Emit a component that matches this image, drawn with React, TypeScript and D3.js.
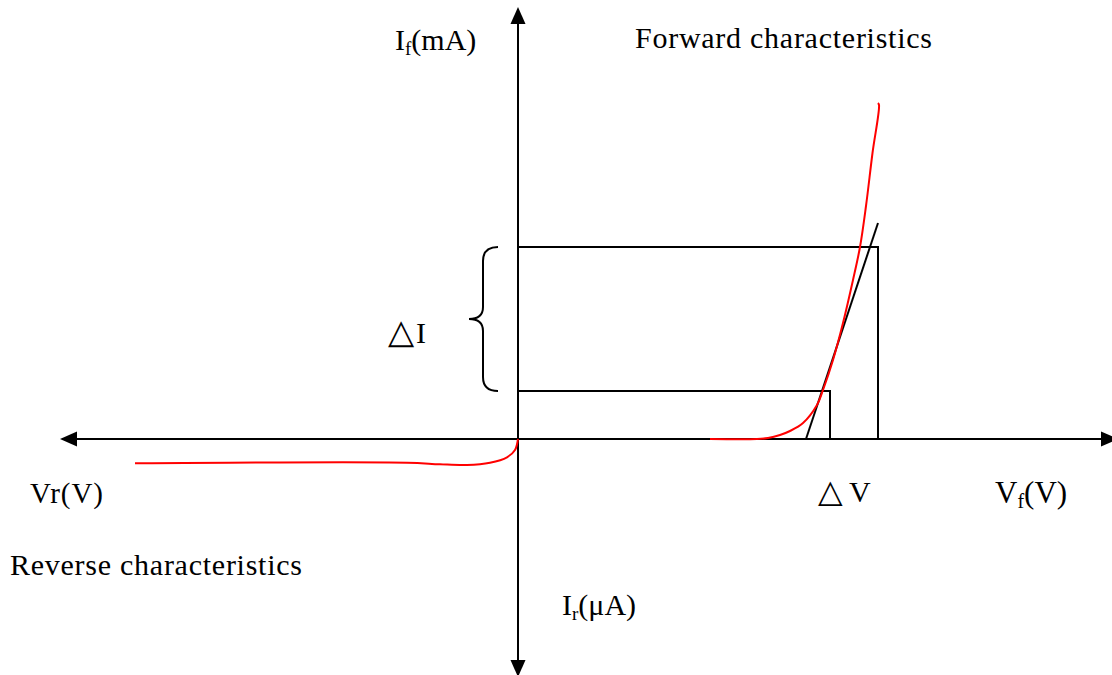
import React from "react";
import * as d3 from "d3";

// Axis extents (arrow tips) in data units
const axisV: [number, number] = [-4.58, 6.0];
const axisI: [number, number] = [-23.8, 43.2];

// Forward characteristic (V, mA)
const forwardV = [1.92, 2.39, 2.5, 2.62, 2.72, 2.85, 2.99, 3.05, 3.15, 3.25, 3.35, 3.42, 3.48, 3.545, 3.61, 3.6];
const forwardI = [0, 0, 0.1, 0.4, 0.8, 1.6, 3.4, 4.9, 7.9, 11.6, 15.9, 19.2, 23.3, 28.6, 33.4, 33.6];

// Reverse characteristic (V, µA scaled)
const reverseV = [-3.83, -1.11, -0.78, -0.51, -0.28, -0.11, -0.03, 0];
const reverseI = [-2.43, -2.37, -2.53, -2.6, -2.37, -1.83, -1.1, 0];

// Tangent line
const tangentV = [2.88, 3.6];
const tangentI = [0, 21.6];

// Delta rectangles: [V, I]
const rectV = [3.12, 3.6];
const rectI = [4.8, 19.2];

// Brace positions (V)
const braceV = [-0.2, -0.35, -0.49];

const xs = d3.scaleLinear().domain([-4.58, 5.94]).range([60, 1112]);
const ys = d3.scaleLinear().domain([-23.3, 43.4]).range([672, 5]);

const FONT = "'Liberation Serif', 'Times New Roman', serif";

export default function App() {
  const line = d3
    .line<[number, number]>()
    .x((d) => xs(d[0]))
    .y((d) => ys(d[1]))
    .curve(d3.curveCatmullRom.alpha(0.5));
  const fwd = line(forwardV.map((v, i) => [v, forwardI[i]]));
  const rev = line(reverseV.map((v, i) => [v, reverseI[i]]));

  const x0 = xs(0);
  const y0 = ys(0);
  const L = 17;
  const W = 7.5;

  const left = xs(axisV[0]);
  const right = xs(axisV[1]);
  const top = ys(axisI[1]);
  const bottom = ys(axisI[0]);

  const bx0 = xs(braceV[0]);
  const bx1 = xs(braceV[1]);
  const bxt = xs(braceV[2]);
  const byT = ys(rectI[1]);
  const byB = ys(rectI[0]);
  const byM = (byT + byB) / 2;
  const r = 14;
  const brace = `M${bx0},${byT} Q${bx1},${byT} ${bx1},${byT + r} L${bx1},${byM - r + 2} Q${bx1},${byM} ${bxt},${byM} Q${bx1},${byM} ${bx1},${byM + r - 2} L${bx1},${byB - r} Q${bx1},${byB} ${bx0},${byB}`;

  return (
    <svg
      width={1112}
      height={675}
      style={{ position: "absolute", left: 0, top: 0, background: "#fff" }}
      fontFamily={FONT}
    >
      {/* axes */}
      <line x1={left + L - 2} y1={y0} x2={right - L + 2} y2={y0} stroke="#000" strokeWidth={2} />
      <line x1={x0} y1={top + L - 2} x2={x0} y2={bottom - L + 2} stroke="#000" strokeWidth={2} />
      <polygon points={`${left},${y0} ${left + L},${y0 - W} ${left + L},${y0 + W}`} fill="#000" />
      <polygon points={`${right},${y0} ${right - L},${y0 - W} ${right - L},${y0 + W}`} fill="#000" />
      <polygon points={`${x0},${top} ${x0 - W},${top + L} ${x0 + W},${top + L}`} fill="#000" />
      <polygon points={`${x0},${bottom} ${x0 - W},${bottom - L} ${x0 + W},${bottom - L}`} fill="#000" />

      {/* rectangles */}
      {rectV.map((v, i) => (
        <path
          key={i}
          d={`M${x0},${ys(rectI[i])} L${xs(v)},${ys(rectI[i])} L${xs(v)},${y0}`}
          fill="none"
          stroke="#000"
          strokeWidth={2}
        />
      ))}

      {/* tangent */}
      <line
        x1={xs(tangentV[0])}
        y1={ys(tangentI[0])}
        x2={xs(tangentV[1])}
        y2={ys(tangentI[1])}
        stroke="#000"
        strokeWidth={2}
      />

      {/* curves */}
      <path d={fwd || ""} fill="none" stroke="#ff0000" strokeWidth={2} />
      <path d={rev || ""} fill="none" stroke="#ff0000" strokeWidth={2} />

      {/* brace */}
      <path d={brace} fill="none" stroke="#000" strokeWidth={2} />

      {/* labels */}
      <text x={395} y={50} fontSize={30}>
        <tspan>I</tspan>
        <tspan fontSize={19} dy={5}>f</tspan>
        <tspan dy={-5}>(mA)</tspan>
      </text>
      <text x={635} y={48} fontSize={30} textLength={297} lengthAdjust="spacing">
        Forward characteristics
      </text>
      <text x={388} y={343} fontSize={30}>
        <tspan fontSize={34}>△</tspan>
        <tspan dx={2}>I</tspan>
      </text>
      <text x={30} y={503} fontSize={29} textLength={73} lengthAdjust="spacing">Vr(V)</text>
      <text x={818} y={502} fontSize={30}>
        <tspan fontSize={32}>△</tspan>
        <tspan dx={6}>V</tspan>
      </text>
      <text x={995} y={503} fontSize={31}>
        <tspan>V</tspan>
        <tspan fontSize={20} dy={5}>f</tspan>
        <tspan dy={-5}>(V)</tspan>
      </text>
      <text x={10} y={575} fontSize={30} textLength={292} lengthAdjust="spacing">
        Reverse characteristics
      </text>
      <text x={562} y={615} fontSize={30}>
        <tspan>I</tspan>
        <tspan fontSize={19} dy={5}>r</tspan>
        <tspan dy={-5}>(μA)</tspan>
      </text>
    </svg>
  );
}
